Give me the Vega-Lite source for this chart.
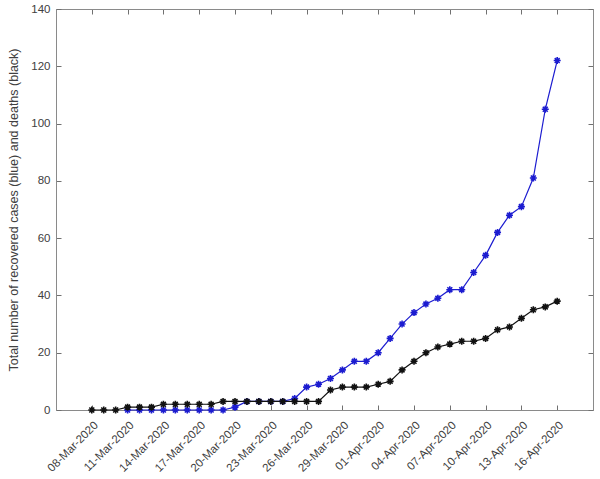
{
  "$schema": "https://vega.github.io/schema/vega-lite/v6.json",
  "width": 537,
  "height": 401,
  "autosize": {"type": "none"},
  "padding": {"left": 56, "top": 9, "right": 7, "bottom": 69},
  "background": "white",
  "config": {
    "view": {"stroke": "#8a8a8a", "strokeWidth": 1},
    "font": "Liberation Sans",
    "axis": {
      "domainColor": "#8a8a8a",
      "labelColor": "#404040",
      "titleColor": "#404040",
      "labelFont": "Liberation Sans",
      "titleFont": "Liberation Sans",
      "labelFontSize": 11.5,
      "titleFontSize": 12.5,
      "titleFontWeight": "normal",
      "grid": false
    }
  },
  "datasets": {
    "covid": [
      {"date": "2020-03-08", "recovered": null, "deaths": 0},
      {"date": "2020-03-09", "recovered": null, "deaths": 0},
      {"date": "2020-03-10", "recovered": null, "deaths": 0},
      {"date": "2020-03-11", "recovered": 0, "deaths": 1},
      {"date": "2020-03-12", "recovered": 0, "deaths": 1},
      {"date": "2020-03-13", "recovered": 0, "deaths": 1},
      {"date": "2020-03-14", "recovered": 0, "deaths": 2},
      {"date": "2020-03-15", "recovered": 0, "deaths": 2},
      {"date": "2020-03-16", "recovered": 0, "deaths": 2},
      {"date": "2020-03-17", "recovered": 0, "deaths": 2},
      {"date": "2020-03-18", "recovered": 0, "deaths": 2},
      {"date": "2020-03-19", "recovered": 0, "deaths": 3},
      {"date": "2020-03-20", "recovered": 1, "deaths": 3},
      {"date": "2020-03-21", "recovered": 3, "deaths": 3},
      {"date": "2020-03-22", "recovered": 3, "deaths": 3},
      {"date": "2020-03-23", "recovered": 3, "deaths": 3},
      {"date": "2020-03-24", "recovered": 3, "deaths": 3},
      {"date": "2020-03-25", "recovered": 4, "deaths": 3},
      {"date": "2020-03-26", "recovered": 8, "deaths": 3},
      {"date": "2020-03-27", "recovered": 9, "deaths": 3},
      {"date": "2020-03-28", "recovered": 11, "deaths": 7},
      {"date": "2020-03-29", "recovered": 14, "deaths": 8},
      {"date": "2020-03-30", "recovered": 17, "deaths": 8},
      {"date": "2020-03-31", "recovered": 17, "deaths": 8},
      {"date": "2020-04-01", "recovered": 20, "deaths": 9},
      {"date": "2020-04-02", "recovered": 25, "deaths": 10},
      {"date": "2020-04-03", "recovered": 30, "deaths": 14},
      {"date": "2020-04-04", "recovered": 34, "deaths": 17},
      {"date": "2020-04-05", "recovered": 37, "deaths": 20},
      {"date": "2020-04-06", "recovered": 39, "deaths": 22},
      {"date": "2020-04-07", "recovered": 42, "deaths": 23},
      {"date": "2020-04-08", "recovered": 42, "deaths": 24},
      {"date": "2020-04-09", "recovered": 48, "deaths": 24},
      {"date": "2020-04-10", "recovered": 54, "deaths": 25},
      {"date": "2020-04-11", "recovered": 62, "deaths": 28},
      {"date": "2020-04-12", "recovered": 68, "deaths": 29},
      {"date": "2020-04-13", "recovered": 71, "deaths": 32},
      {"date": "2020-04-14", "recovered": 81, "deaths": 35},
      {"date": "2020-04-15", "recovered": 105, "deaths": 36},
      {"date": "2020-04-16", "recovered": 122, "deaths": 38}
    ]
  },
  "data": {"name": "covid"},
  "resolve": {"scale": {"x": "independent", "y": "independent"}, "axis": {"x": "independent", "y": "independent"}},
  "layer": [
    {
      "mark": {"type": "line", "color": "#1c1cd0", "strokeWidth": 1.2},
      "encoding": {
        "x": {
          "field": "date", "type": "temporal",
          "scale": {"type": "utc", "domain": [{"year": 2020, "month": 3, "date": 5, "utc": true}, {"year": 2020, "month": 4, "date": 19, "utc": true}]},
          "axis": {
            "orient": "bottom", "title": null, "ticks": true, "tickSize": -5, "tickColor": "#707070", "tickWidth": 1,
            "labelExpr": "utcFormat(datum.value, '%d-%b-%Y')",
            "labelAngle": -45, "labelAlign": "right", "labelBaseline": "top", "labelPadding": 14,
            "labelOverlap": false, "labelFlush": false,
            "values": [
              {"year": 2020, "month": 3, "date": 8, "utc": true},
              {"year": 2020, "month": 3, "date": 11, "utc": true},
              {"year": 2020, "month": 3, "date": 14, "utc": true},
              {"year": 2020, "month": 3, "date": 17, "utc": true},
              {"year": 2020, "month": 3, "date": 20, "utc": true},
              {"year": 2020, "month": 3, "date": 23, "utc": true},
              {"year": 2020, "month": 3, "date": 26, "utc": true},
              {"year": 2020, "month": 3, "date": 29, "utc": true},
              {"year": 2020, "month": 4, "date": 1, "utc": true},
              {"year": 2020, "month": 4, "date": 4, "utc": true},
              {"year": 2020, "month": 4, "date": 7, "utc": true},
              {"year": 2020, "month": 4, "date": 10, "utc": true},
              {"year": 2020, "month": 4, "date": 13, "utc": true},
              {"year": 2020, "month": 4, "date": 16, "utc": true}
            ]
          }
        },
        "y": {
          "field": "recovered", "type": "quantitative",
          "scale": {"domain": [0, 140], "nice": false, "zero": true},
          "axis": {"orient": "left", "title": "Total number of recovered cases (blue) and deaths (black)", "ticks": true, "tickSize": -5, "tickColor": "#707070", "tickWidth": 1, "values": [0, 20, 40, 60, 80, 100, 120, 140], "labelPadding": 11, "titlePadding": 10}
        }
      }
    },
    {
      "mark": {"type": "point", "shape": "M-1,0L1,0M0,-1L0,1M-0.7,-0.7L0.7,0.7M-0.7,0.7L0.7,-0.7", "filled": false, "color": "#1c1cd0", "strokeWidth": 1.6, "size": 49, "opacity": 1},
      "encoding": {
        "x": {
          "field": "date", "type": "temporal",
          "scale": {"type": "utc", "domain": [{"year": 2020, "month": 3, "date": 5, "utc": true}, {"year": 2020, "month": 4, "date": 19, "utc": true}]},
          "axis": {
            "orient": "top", "title": null, "labels": false, "domain": true, "ticks": true, "tickSize": -5, "tickColor": "#707070", "tickWidth": 1,
            "values": [
              {"year": 2020, "month": 3, "date": 8, "utc": true},
              {"year": 2020, "month": 3, "date": 11, "utc": true},
              {"year": 2020, "month": 3, "date": 14, "utc": true},
              {"year": 2020, "month": 3, "date": 17, "utc": true},
              {"year": 2020, "month": 3, "date": 20, "utc": true},
              {"year": 2020, "month": 3, "date": 23, "utc": true},
              {"year": 2020, "month": 3, "date": 26, "utc": true},
              {"year": 2020, "month": 3, "date": 29, "utc": true},
              {"year": 2020, "month": 4, "date": 1, "utc": true},
              {"year": 2020, "month": 4, "date": 4, "utc": true},
              {"year": 2020, "month": 4, "date": 7, "utc": true},
              {"year": 2020, "month": 4, "date": 10, "utc": true},
              {"year": 2020, "month": 4, "date": 13, "utc": true},
              {"year": 2020, "month": 4, "date": 16, "utc": true}
            ]
          }
        },
        "y": {
          "field": "recovered", "type": "quantitative",
          "scale": {"domain": [0, 140], "nice": false, "zero": true},
          "axis": {"orient": "right", "title": null, "labels": false, "domain": true, "ticks": true, "tickSize": -5, "tickColor": "#707070", "tickWidth": 1, "values": [0, 20, 40, 60, 80, 100, 120, 140]}
        }
      }
    },
    {
      "mark": {"type": "line", "color": "#111111", "strokeWidth": 1.2},
      "encoding": {
        "x": {"field": "date", "type": "temporal", "axis": null,
          "scale": {"type": "utc", "domain": [{"year": 2020, "month": 3, "date": 5, "utc": true}, {"year": 2020, "month": 4, "date": 19, "utc": true}]}},
        "y": {"field": "deaths", "type": "quantitative", "axis": null,
          "scale": {"domain": [0, 140], "nice": false, "zero": true}}
      }
    },
    {
      "mark": {"type": "point", "shape": "M-1,0L1,0M0,-1L0,1M-0.7,-0.7L0.7,0.7M-0.7,0.7L0.7,-0.7", "filled": false, "color": "#111111", "strokeWidth": 1.6, "size": 49, "opacity": 1},
      "encoding": {
        "x": {"field": "date", "type": "temporal", "axis": null,
          "scale": {"type": "utc", "domain": [{"year": 2020, "month": 3, "date": 5, "utc": true}, {"year": 2020, "month": 4, "date": 19, "utc": true}]}},
        "y": {"field": "deaths", "type": "quantitative", "axis": null,
          "scale": {"domain": [0, 140], "nice": false, "zero": true}}
      }
    }
  ]
}
